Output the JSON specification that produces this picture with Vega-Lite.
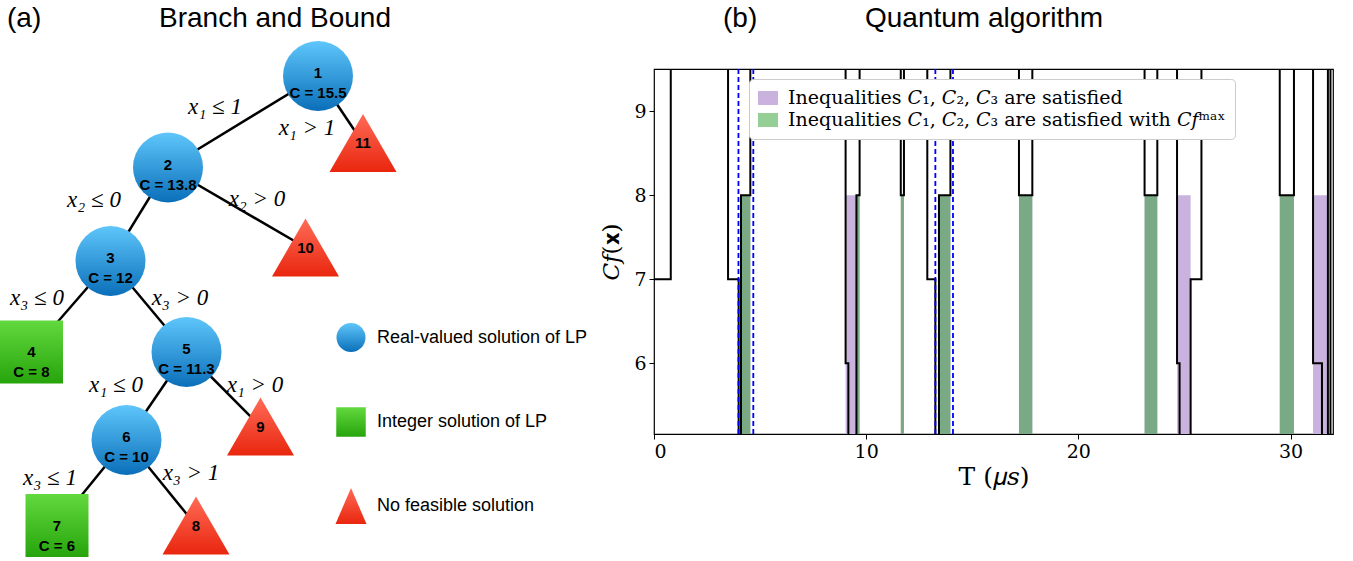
{
  "$schema": "https://vega.github.io/schema/vega-lite/v6.json",
  "background": "white",
  "padding": 0,
  "bounds": "flush",
  "spacing": 0,
  "config": {"view": {"stroke": null}},
  "datasets": {
    "nodes": [
      {"id": 1, "kind": "lp", "px": 318, "py": 76, "label": "1\nC = 15.5"},
      {"id": 2, "kind": "lp", "px": 168, "py": 167.5, "label": "2\nC = 13.8"},
      {"id": 3, "kind": "lp", "px": 110.5, "py": 261, "label": "3\nC = 12"},
      {"id": 4, "kind": "int", "px": 31.5, "py": 352, "label": "4\nC = 8"},
      {"id": 5, "kind": "lp", "px": 186.5, "py": 352, "label": "5\nC = 11.3"},
      {"id": 6, "kind": "lp", "px": 126.5, "py": 440, "label": "6\nC = 10"},
      {"id": 7, "kind": "int", "px": 57, "py": 525.5, "label": "7\nC = 6"},
      {"id": 8, "kind": "inf", "px": 196, "py": 525.5, "label": "8"},
      {"id": 9, "kind": "inf", "px": 260.5, "py": 426.5, "label": "9"},
      {"id": 10, "kind": "inf", "px": 305.5, "py": 247.5, "label": "10"},
      {"id": 11, "kind": "inf", "px": 363, "py": 143, "label": "11"}
    ],
    "edges": [
      {"src": 1, "dst": 2}, {"src": 1, "dst": 11}, {"src": 2, "dst": 3}, {"src": 2, "dst": 10},
      {"src": 3, "dst": 4}, {"src": 3, "dst": 5}, {"src": 5, "dst": 6}, {"src": 5, "dst": 9},
      {"src": 6, "dst": 7}, {"src": 6, "dst": 8}
    ],
    "edgeLabels": [
      {"px": 215, "py": 107, "text": "x₁ ≤ 1"},
      {"px": 307, "py": 128, "text": "x₁ > 1"},
      {"px": 94, "py": 200, "text": "x₂ ≤ 0"},
      {"px": 257, "py": 199, "text": "x₂ > 0"},
      {"px": 37, "py": 298, "text": "x₃ ≤ 0"},
      {"px": 180, "py": 298, "text": "x₃ > 0"},
      {"px": 116, "py": 385, "text": "x₁ ≤ 0"},
      {"px": 255, "py": 385, "text": "x₁ > 0"},
      {"px": 50, "py": 478, "text": "x₃ ≤ 1"},
      {"px": 191, "py": 473, "text": "x₃ > 1"}
    ],
    "legendItems": [
      {"kind": "lp", "px": 351, "py": 337.5, "text": "Real-valued solution of LP"},
      {"kind": "int", "px": 351, "py": 422, "text": "Integer solution of LP"},
      {"kind": "inf", "px": 351, "py": 506, "text": "No feasible solution"}
    ],
    "ltitles": [
      {"px": 7, "py": 27, "text": "(a)"},
      {"px": 159, "py": 27, "text": "Branch and Bound"}
    ],
    "rtitles": [
      {"px": 723, "py": 27, "text": "(b)"},
      {"px": 865, "py": 27, "text": "Quantum algorithm"}
    ],
    "steps": [
      {"t": 0, "cf": 7}, {"t": 0.79, "cf": 11}, {"t": 3.49, "cf": 7}, {"t": 3.99, "cf": 4},
      {"t": 4.1, "cf": 8}, {"t": 4.54, "cf": 11}, {"t": 9.03, "cf": 6}, {"t": 9.16, "cf": 4},
      {"t": 9.54, "cf": 8}, {"t": 9.69, "cf": 11}, {"t": 11.63, "cf": 8}, {"t": 11.78, "cf": 11},
      {"t": 12.88, "cf": 7}, {"t": 13.26, "cf": 4}, {"t": 13.43, "cf": 8}, {"t": 13.97, "cf": 11},
      {"t": 17.2, "cf": 8}, {"t": 17.83, "cf": 11}, {"t": 23.12, "cf": 8}, {"t": 23.72, "cf": 11},
      {"t": 24.65, "cf": 6}, {"t": 24.77, "cf": 4}, {"t": 25.29, "cf": 7}, {"t": 25.8, "cf": 11},
      {"t": 29.49, "cf": 8}, {"t": 30.16, "cf": 11}, {"t": 31.06, "cf": 6}, {"t": 31.48, "cf": 4},
      {"t": 31.76, "cf": 11}, {"t": 31.88, "cf": 4}, {"t": 32, "cf": 4}
    ],
    "bars": [
      {"t0": 4.1, "t1": 4.54, "top": 8, "kind": "Inequalities 𝐶₁, 𝐶₂, 𝐶₃ are satisfied"},
      {"t0": 9.03, "t1": 9.69, "top": 8, "kind": "Inequalities 𝐶₁, 𝐶₂, 𝐶₃ are satisfied"},
      {"t0": 11.63, "t1": 11.78, "top": 8, "kind": "Inequalities 𝐶₁, 𝐶₂, 𝐶₃ are satisfied"},
      {"t0": 13.43, "t1": 13.97, "top": 8, "kind": "Inequalities 𝐶₁, 𝐶₂, 𝐶₃ are satisfied"},
      {"t0": 17.2, "t1": 17.83, "top": 8, "kind": "Inequalities 𝐶₁, 𝐶₂, 𝐶₃ are satisfied"},
      {"t0": 23.12, "t1": 23.72, "top": 8, "kind": "Inequalities 𝐶₁, 𝐶₂, 𝐶₃ are satisfied"},
      {"t0": 24.65, "t1": 25.29, "top": 8, "kind": "Inequalities 𝐶₁, 𝐶₂, 𝐶₃ are satisfied"},
      {"t0": 29.49, "t1": 30.16, "top": 8, "kind": "Inequalities 𝐶₁, 𝐶₂, 𝐶₃ are satisfied"},
      {"t0": 31.06, "t1": 31.76, "top": 8, "kind": "Inequalities 𝐶₁, 𝐶₂, 𝐶₃ are satisfied"},
      {"t0": 4.1, "t1": 4.54, "top": 8, "kind": "Inequalities 𝐶₁, 𝐶₂, 𝐶₃ are satisfied with 𝐶𝑓ᵐᵃˣ"},
      {"t0": 9.54, "t1": 9.69, "top": 8, "kind": "Inequalities 𝐶₁, 𝐶₂, 𝐶₃ are satisfied with 𝐶𝑓ᵐᵃˣ"},
      {"t0": 11.63, "t1": 11.78, "top": 8, "kind": "Inequalities 𝐶₁, 𝐶₂, 𝐶₃ are satisfied with 𝐶𝑓ᵐᵃˣ"},
      {"t0": 13.43, "t1": 13.97, "top": 8, "kind": "Inequalities 𝐶₁, 𝐶₂, 𝐶₃ are satisfied with 𝐶𝑓ᵐᵃˣ"},
      {"t0": 17.2, "t1": 17.83, "top": 8, "kind": "Inequalities 𝐶₁, 𝐶₂, 𝐶₃ are satisfied with 𝐶𝑓ᵐᵃˣ"},
      {"t0": 23.12, "t1": 23.72, "top": 8, "kind": "Inequalities 𝐶₁, 𝐶₂, 𝐶₃ are satisfied with 𝐶𝑓ᵐᵃˣ"},
      {"t0": 29.49, "t1": 30.16, "top": 8, "kind": "Inequalities 𝐶₁, 𝐶₂, 𝐶₃ are satisfied with 𝐶𝑓ᵐᵃˣ"}
    ],
    "guides": [{"t": 3.98}, {"t": 4.68}, {"t": 13.26}, {"t": 14.09}]
  },
  "hconcat": [
    {
      "width": 654,
      "height": 561,
      "view": {"stroke": null},
      "encoding": {
        "x": {"field": "px", "type": "quantitative", "scale": {"domain": [0, 654], "nice": false, "zero": false}, "axis": null},
        "y": {"field": "py", "type": "quantitative", "scale": {"domain": [0, 561], "reverse": true, "nice": false, "zero": false}, "axis": null}
      },
      "layer": [
        {
          "data": {"name": "edges"},
          "transform": [
            {"lookup": "src", "from": {"data": {"name": "nodes"}, "key": "id", "fields": ["px", "py"]}},
            {"lookup": "dst", "from": {"data": {"name": "nodes"}, "key": "id", "fields": ["px", "py"]}, "as": ["qx", "qy"]}
          ],
          "mark": {"type": "rule", "color": "black", "strokeWidth": 2.5},
          "encoding": {"x2": {"field": "qx"}, "y2": {"field": "qy"}}
        },
        {
          "data": {"name": "nodes"},
          "transform": [{"filter": "datum.kind === 'lp'"}],
          "mark": {"type": "point", "shape": "circle", "filled": true, "opacity": 1, "size": 4900, "strokeWidth": 0,
            "fill": {"gradient": "linear", "x1": 0, "y1": 0, "x2": 0, "y2": 1, "stops": [{"offset": 0, "color": "#5fc6fb"}, {"offset": 1, "color": "#0a6fb9"}]}}
        },
        {
          "data": {"name": "nodes"},
          "transform": [{"filter": "datum.kind === 'int'"}],
          "mark": {"type": "point", "shape": "square", "filled": true, "opacity": 1, "size": 3969, "strokeWidth": 0,
            "fill": {"gradient": "linear", "x1": 0, "y1": 0, "x2": 0, "y2": 1, "stops": [{"offset": 0, "color": "#62d93e"}, {"offset": 1, "color": "#27a40c"}]}}
        },
        {
          "data": {"name": "nodes"},
          "transform": [{"filter": "datum.kind === 'inf'"}],
          "mark": {"type": "point", "shape": "triangle-up", "filled": true, "opacity": 1, "size": 4489, "strokeWidth": 0,
            "fill": {"gradient": "linear", "x1": 0, "y1": 0, "x2": 0, "y2": 1, "stops": [{"offset": 0, "color": "#ff6b57"}, {"offset": 1, "color": "#e9260e"}]}}
        },
        {
          "data": {"name": "nodes"},
          "transform": [{"filter": "datum.kind === 'lp'"}],
          "mark": {"type": "text", "font": "Liberation Sans", "fontWeight": "bold", "fontSize": 15, "lineBreak": "\n", "lineHeight": 20, "align": "center", "baseline": "middle", "dy": -3, "color": "black"},
          "encoding": {"text": {"field": "label"}}
        },
        {
          "data": {"name": "nodes"},
          "transform": [{"filter": "datum.kind !== 'lp'"}],
          "mark": {"type": "text", "font": "Liberation Sans", "fontWeight": "bold", "fontSize": 15, "lineBreak": "\n", "lineHeight": 20, "align": "center", "baseline": "middle", "color": "black"},
          "encoding": {"text": {"field": "label"}}
        },
        {
          "data": {"name": "edgeLabels"},
          "mark": {"type": "text", "font": "Liberation Serif", "fontStyle": "italic", "fontSize": 23, "align": "center", "baseline": "middle", "color": "black"},
          "encoding": {"text": {"field": "text"}}
        },
        {
          "data": {"name": "legendItems"},
          "transform": [{"filter": "datum.kind === 'lp'"}],
          "mark": {"type": "point", "shape": "circle", "filled": true, "opacity": 1, "size": 841, "strokeWidth": 0,
            "fill": {"gradient": "linear", "x1": 0, "y1": 0, "x2": 0, "y2": 1, "stops": [{"offset": 0, "color": "#5fc6fb"}, {"offset": 1, "color": "#0a6fb9"}]}}
        },
        {
          "data": {"name": "legendItems"},
          "transform": [{"filter": "datum.kind === 'int'"}],
          "mark": {"type": "point", "shape": "square", "filled": true, "opacity": 1, "size": 870, "strokeWidth": 0,
            "fill": {"gradient": "linear", "x1": 0, "y1": 0, "x2": 0, "y2": 1, "stops": [{"offset": 0, "color": "#62d93e"}, {"offset": 1, "color": "#27a40c"}]}}
        },
        {
          "data": {"name": "legendItems"},
          "transform": [{"filter": "datum.kind === 'inf'"}],
          "mark": {"type": "point", "shape": "M0,-1L-0.86,1L0.86,1Z", "filled": true, "opacity": 1, "size": 1296, "strokeWidth": 0,
            "fill": {"gradient": "linear", "x1": 0, "y1": 0, "x2": 0, "y2": 1, "stops": [{"offset": 0, "color": "#ff6b57"}, {"offset": 1, "color": "#e9260e"}]}}
        },
        {
          "data": {"name": "legendItems"},
          "mark": {"type": "text", "font": "Liberation Sans", "fontSize": 18, "align": "left", "baseline": "middle", "dx": 26, "color": "black"},
          "encoding": {"text": {"field": "text"}}
        },
        {
          "data": {"name": "ltitles"},
          "mark": {"type": "text", "font": "Liberation Sans", "fontSize": 28, "align": "left", "baseline": "alphabetic", "color": "black"},
          "encoding": {"text": {"field": "text"}}
        }
      ]
    },
    {
      "spacing": 0,
      "bounds": "flush",
      "vconcat": [
        {
          "width": 679,
          "height": 69,
          "view": {"stroke": null},
          "data": {"name": "rtitles"},
          "mark": {"type": "text", "font": "Liberation Sans", "fontSize": 28, "align": "left", "baseline": "alphabetic", "color": "black"},
          "encoding": {
            "x": {"field": "px", "type": "quantitative", "scale": {"domain": [654, 1333], "nice": false, "zero": false}, "axis": null},
            "y": {"field": "py", "type": "quantitative", "scale": {"domain": [0, 69], "reverse": true, "nice": false, "zero": false}, "axis": null},
            "text": {"field": "text"}
          }
        },
        {
          "width": 679,
          "height": 365,
          "view": {"stroke": "black", "strokeWidth": 1.2},
          "layer": [
            {
              "data": {"name": "bars"},
              "transform": [{"filter": "!test(/with/, datum.kind)"}],
              "mark": {"type": "rect", "clip": true},
              "encoding": {
                "x": {"field": "t0", "type": "quantitative", "scale": {"domain": [0, 32], "nice": false, "zero": false},
                  "axis": {"values": [0, 10, 20, 30], "format": "d", "domain": false, "grid": false, "tickColor": "black", "tickSize": 5, "labelPadding": 3,
                    "labelFont": "DejaVu Serif", "labelFontSize": 19, "labelColor": "black",
                    "title": "T (𝜇𝑠)", "titleFont": "DejaVu Serif", "titleFontSize": 25, "titleFontWeight": "normal", "titleColor": "black", "titlePadding": 3}},
                "x2": {"field": "t1"},
                "y": {"field": "top", "type": "quantitative", "scale": {"domain": [5.16, 9.5], "nice": false, "zero": false},
                  "axis": {"values": [6, 7, 8, 9], "format": "d", "domain": false, "grid": false, "tickColor": "black", "tickSize": 5, "labelPadding": 3,
                    "labelFont": "DejaVu Serif", "labelFontSize": 19, "labelColor": "black",
                    "title": "𝐶𝑓(𝐱)", "titleFont": "DejaVu Serif", "titleFontSize": 23, "titleFontWeight": "normal", "titleColor": "black", "titlePadding": 10}},
                "y2": {"datum": 4},
                "color": {"field": "kind", "type": "nominal",
                  "scale": {"domain": ["Inequalities 𝐶₁, 𝐶₂, 𝐶₃ are satisfied", "Inequalities 𝐶₁, 𝐶₂, 𝐶₃ are satisfied with 𝐶𝑓ᵐᵃˣ"], "range": ["#c9b3de", "rgba(44,160,44,0.5)"]},
                  "legend": {"orient": "none", "legendX": 749, "legendY": 79, "title": null, "fillColor": "white", "strokeColor": "#cccccc", "cornerRadius": 4,
                    "padding": 9, "symbolType": "M-1,-0.7H1V0.7H-1Z", "symbolSize": 400, "symbolStrokeWidth": 0, "labelFont": "DejaVu Serif", "labelFontSize": 19,
                    "labelColor": "black", "labelLimit": 1000, "labelOffset": 10, "rowPadding": 2}}
              }
            },
            {
              "data": {"name": "bars"},
              "transform": [{"filter": "test(/with/, datum.kind)"}],
              "mark": {"type": "rect", "clip": true},
              "encoding": {
                "x": {"field": "t0", "type": "quantitative"},
                "x2": {"field": "t1"},
                "y": {"field": "top", "type": "quantitative"},
                "y2": {"datum": 4},
                "color": {"field": "kind", "type": "nominal"}
              }
            },
            {
              "data": {"name": "steps"},
              "mark": {"type": "line", "interpolate": "step-after", "color": "black", "strokeWidth": 2, "clip": true},
              "encoding": {
                "x": {"field": "t", "type": "quantitative"},
                "y": {"field": "cf", "type": "quantitative"}
              }
            },
            {
              "data": {"name": "guides"},
              "mark": {"type": "rule", "color": "#0000ff", "strokeWidth": 1.8, "strokeDash": [5, 3]},
              "encoding": {"x": {"field": "t", "type": "quantitative"}}
            }
          ]
        }
      ]
    }
  ]
}
